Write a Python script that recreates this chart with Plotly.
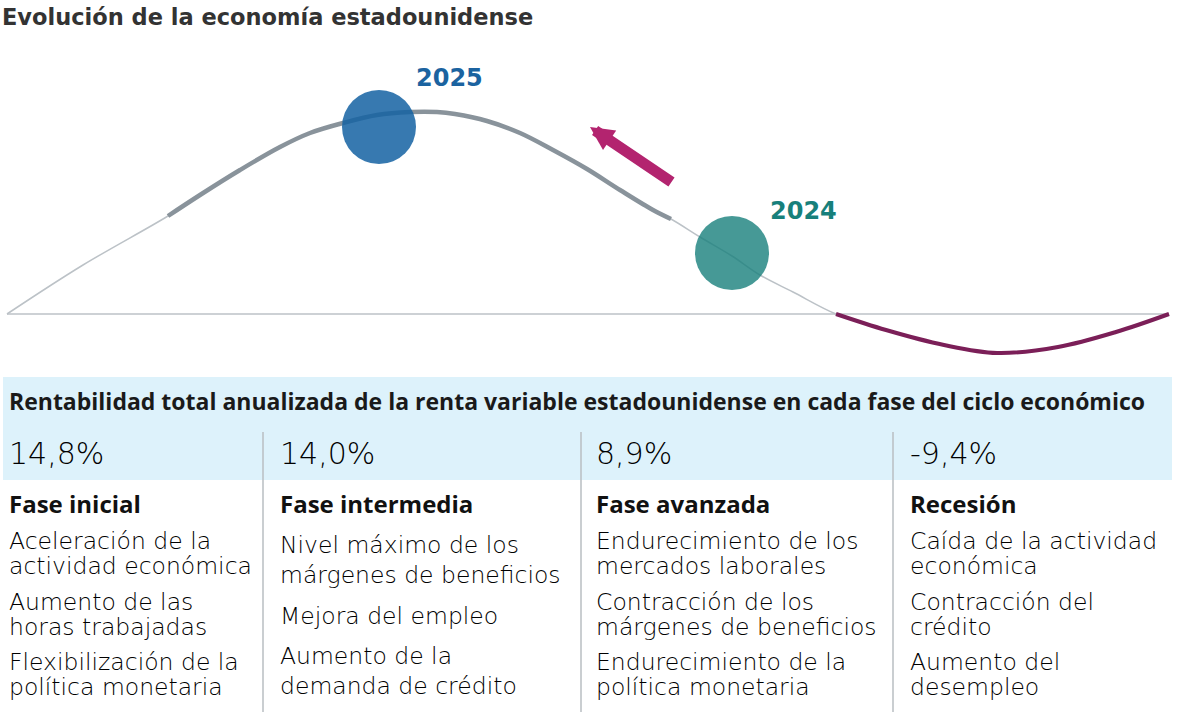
import plotly.graph_objects as go

W, H = 1177, 712

# ---------------- data ----------------
title = "Evolución de la economía estadounidense"

# economic cycle curve (x: cycle position, y: activity above baseline)
cycle_x = [7, 83, 168, 200, 240, 280, 310, 343, 377, 410, 437, 455, 487, 520, 553, 587, 620, 653, 671, 700, 732, 760, 793, 836, 886, 944, 997, 1058, 1116, 1169]
cycle_y = [0, 49, 98, 119, 144, 167, 181, 191, 199, 202, 202, 200, 193, 181, 164, 145, 124, 104, 95, 77, 58, 39, 22, 0, -16, -31, -39, -33, -18, 0]

mid_phase = (168, 671)      # thick grey part
recession = (836, 1169)     # maroon part

years = ["2025", "2024"]
year_x = [379, 732]
year_y = [187, 61]
year_colors = ["rgba(20,98,162,0.85)", "rgba(24,128,124,0.80)"]
year_label_colors = ["#1b63a0", "#17807b"]

table_title = "Rentabilidad total anualizada de la renta variable estadounidense en cada fase del ciclo económico"
returns = ["14,8%", "14,0%", "8,9%", "-9,4%"]
phases = ["Fase inicial", "Fase intermedia", "Fase avanzada", "Recesión"]
phase_items = [
    [["Aceleración de la", "actividad económica"], ["Aumento de las", "horas trabajadas"], ["Flexibilización de la", "política monetaria"]],
    [["Nivel máximo de los", "márgenes de beneficios"], ["Mejora del empleo"], ["Aumento de la", "demanda de crédito"]],
    [["Endurecimiento de los", "mercados laborales"], ["Contracción de los", "márgenes de beneficios"], ["Endurecimiento de la", "política monetaria"]],
    [["Caída de la actividad", "económica"], ["Contracción del", "crédito"], ["Aumento del", "desempleo"]],
]

# ---------------- figure ----------------
SANS = "Open Sans"
WIDE = "DejaVu Sans"
fig = go.Figure()

fig.add_trace(go.Scatter(x=[cycle_x[0], cycle_x[-1]], y=[0, 0], mode="lines",
                         line=dict(color="#bcc2c7", width=1.5), hoverinfo="skip"))
fig.add_trace(go.Scatter(x=cycle_x, y=cycle_y, mode="lines", line_shape="spline",
                         line=dict(color="#bcc2c7", width=1.5), hoverinfo="skip"))

def segment(lo, hi):
    xs, ys = [], []
    for a, b in zip(cycle_x, cycle_y):
        if lo <= a <= hi:
            xs.append(a); ys.append(b)
    return xs, ys

sx, sy = segment(*mid_phase)
fig.add_trace(go.Scatter(x=sx, y=sy, mode="lines", line_shape="spline",
                         line=dict(color="#89939b", width=4.5), hoverinfo="skip"))
sx, sy = segment(*recession)
fig.add_trace(go.Scatter(x=sx, y=sy, mode="lines", line_shape="spline",
                         line=dict(color="#7b1f58", width=4), hoverinfo="skip"))

fig.add_trace(go.Scatter(x=year_x, y=year_y, mode="markers",
                         marker=dict(size=74, color=year_colors, line=dict(width=0)),
                         hoverinfo="skip"))

def px(x): return x / W
def py(y): return 1 - y / H

def txt(x, y, s, size, color="#1a1a1a", weight=400, family=SANS):
    return dict(x=px(x), y=py(y), xref="paper", yref="paper", text=s, showarrow=False,
                xanchor="left", yanchor="middle",
                font=dict(family=family, size=size, color=color, weight=weight))

ann = []
ann.append(txt(0, 17, title, 22.5, "#333333", 700, WIDE))
ann.append(txt(414, 78, years[0], 24, year_label_colors[0], 700, WIDE))
ann.append(txt(768, 211, years[1], 24, year_label_colors[1], 700, WIDE))
ann.append(dict(x=590, y=314 - 127, ax=673, ay=314 - 183, xref="x", yref="y", axref="x", ayref="y",
                text="", showarrow=True, arrowhead=2, arrowwidth=11, arrowsize=0.43,
                arrowcolor="#b3246f"))

shapes = [dict(type="rect", xref="paper", yref="paper", x0=px(3), x1=px(1172), y0=py(480), y1=py(377),
               fillcolor="#ddf2fb", line=dict(width=0), layer="below")]
for sxp in [263, 581, 893]:
    shapes.append(dict(type="line", xref="paper", yref="paper", x0=px(sxp), x1=px(sxp),
                       y0=py(432), y1=py(712), line=dict(color="#b9bec2", width=1.5)))

ann.append(txt(7, 401, table_title, 23, "#1a1a1a", 700))
col_x = [7, 278, 594, 908]
line_ys = [
    [541, 566, 602, 627, 662, 687],
    [545, 575, 616, 656, 686],
    [541, 566, 602, 627, 662, 687],
    [541, 566, 602, 627, 662, 687],
]
for c in range(4):
    ann.append(txt(col_x[c], 453, returns[c], 30, "#000000", 200, WIDE))
    ann.append(txt(col_x[c], 503, phases[c], 24, "#111111", 700))
    lines = [ln for item in phase_items[c] for ln in item]
    for ln, yy in zip(lines, line_ys[c]):
        ann.append(txt(col_x[c], yy, ln, 23.5, "#000000", 200, WIDE))

fig.update_layout(
    width=W, height=H, margin=dict(l=0, r=0, t=0, b=0),
    paper_bgcolor="white", plot_bgcolor="white", showlegend=False,
    xaxis=dict(range=[0, W], visible=False, fixedrange=True),
    yaxis=dict(range=[314 - H, 314], visible=False, fixedrange=True),
    annotations=ann, shapes=shapes,
)
fig.write_html("out.html", config={"displayModeBar": False},
               post_script="document.body.style.margin='0px';")
